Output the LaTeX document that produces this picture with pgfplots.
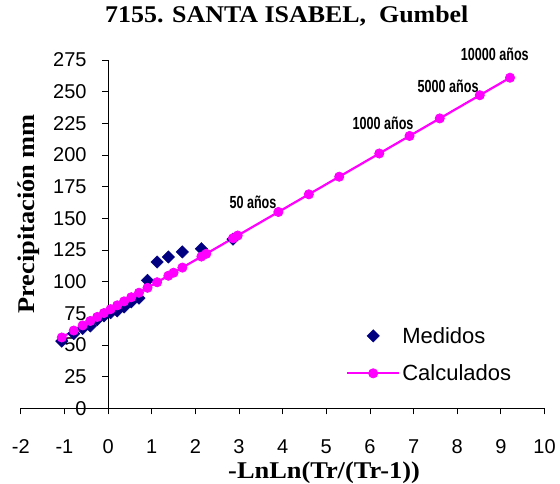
\documentclass[border=0pt]{standalone}
\usepackage{fontspec}
\setmainfont{Liberation Sans}
\newfontfamily\titlefont{Liberation Serif}
\usepackage{pgfplots}
\pgfplotsset{compat=1.18}
\definecolor{navy}{RGB}{0,0,128}
\definecolor{mag}{RGB}{255,0,255}
\newcommand{\ann}[1]{\scalebox{0.72}[1]{\fontsize{17.5}{18}\selectfont\bfseries #1}}
\begin{document}
\begin{tikzpicture}[x=1pt,y=1pt]
\path[use as bounding box] (0,0) rectangle (560,483);
\begin{axis}[
  at={(20.8pt,74.7pt)}, anchor=south west,
  scale only axis, width=523.7pt, height=348.3pt,
  xmin=-2, xmax=10, ymin=0, ymax=275,
  axis x line=bottom, axis y line=middle,
  axis line style={-, black, line width=0.8pt},
  hide obscured x ticks=false, hide obscured y ticks=false,
  xtick={-2,-1,0,1,2,3,4,5,6,7,8,9,10},
  ytick={0,25,50,75,100,125,150,175,200,225,250,275},
  tick align=outside, major tick length=6pt,
  tick style={black, line width=0.8pt},
  /pgf/number format/assume math mode=true,
  ticklabel style={font=\fontsize{20}{22}\selectfont},
  xticklabel style={anchor=north, yshift=-22pt},
  yticklabel style={anchor=east, xshift=-12pt},
  title={\titlefont\bfseries\scalebox{1.08}[1]{7155. SANTA ISABEL,\ \ Gumbel}},
  title style={at={(axis description cs:0.508,1.091)}, anchor=base, font=\fontsize{24}{26}\selectfont},
  xlabel={\titlefont\bfseries\scalebox{1.1}[1]{-LnLn(Tr/(Tr-1))}},
  xlabel style={at={(axis description cs:0.579,-0.201)}, anchor=base, font=\fontsize{24}{26}\selectfont},
  ylabel={\titlefont\bfseries\scalebox{1.1}[1]{Precipitación mm}},
  ylabel style={at={(axis description cs:0.027,0.558)}, anchor=base, rotate=90, font=\fontsize{24}{26}\selectfont},
  clip=false,
  legend image code/.code={\draw[mark repeat=2,mark phase=2,#1] plot coordinates {(0pt,0pt) (26pt,0pt) (52pt,0pt)};},
  legend style={draw=none, fill=none, at={(axis description cs:0.615,0.245)}, anchor=north west,
    font=\fontsize{22}{24}\selectfont, row sep=16pt},
  legend cell align=left,
]
\addplot[only marks, mark=square*, mark size=4.4pt, mark options={rotate=45, fill=navy, draw=navy}, color=navy]
coordinates {
(2.862,133.5) (2.139,126) (1.702,123.5) (1.381,119.5) (1.123,115.5)
(0.903,101) (0.708,87) (0.531,84) (0.367,80) (0.210,77)
(0.057,75.5) (-0.094,73) (-0.248,70) (-0.408,65) (-0.583,63)
(-0.787,59) (-1.061,53)
};
\addlegendentry{Medidos}
\addplot[color=mag, line width=2.2pt, mark=*, mark size=4.6pt, mark options={fill=mag, draw=mag, line width=0.8pt}]
coordinates {
(-1.061,55.91) (-0.787,61.38) (-0.583,65.46) (-0.408,68.95) (-0.248,72.15)
(-0.094,75.22) (0.057,78.24) (0.210,81.29) (0.367,84.43) (0.531,87.70)
(0.708,91.24) (0.903,95.13) (1.123,99.53) (1.381,104.68) (1.500,107.06)
(1.702,111.09) (2.139,119.82) (2.250,122.03) (2.862,134.25) (2.970,136.41)
(3.902,155.02) (4.600,168.96) (5.296,182.86) (6.214,201.19) (6.907,215.03)
(7.600,228.88) (8.517,247.19) (9.210,261.02)
};
\addlegendentry{Calculados}
\node at (axis cs:3.32,162.9) {\ann{50 años}};
\node at (axis cs:6.30,225.3) {\ann{1000 años}};
\node at (axis cs:7.79,254.4) {\ann{5000 años}};
\node at (axis cs:8.86,279.6) {\ann{10000 años}};
\end{axis}
\end{tikzpicture}
\end{document}
